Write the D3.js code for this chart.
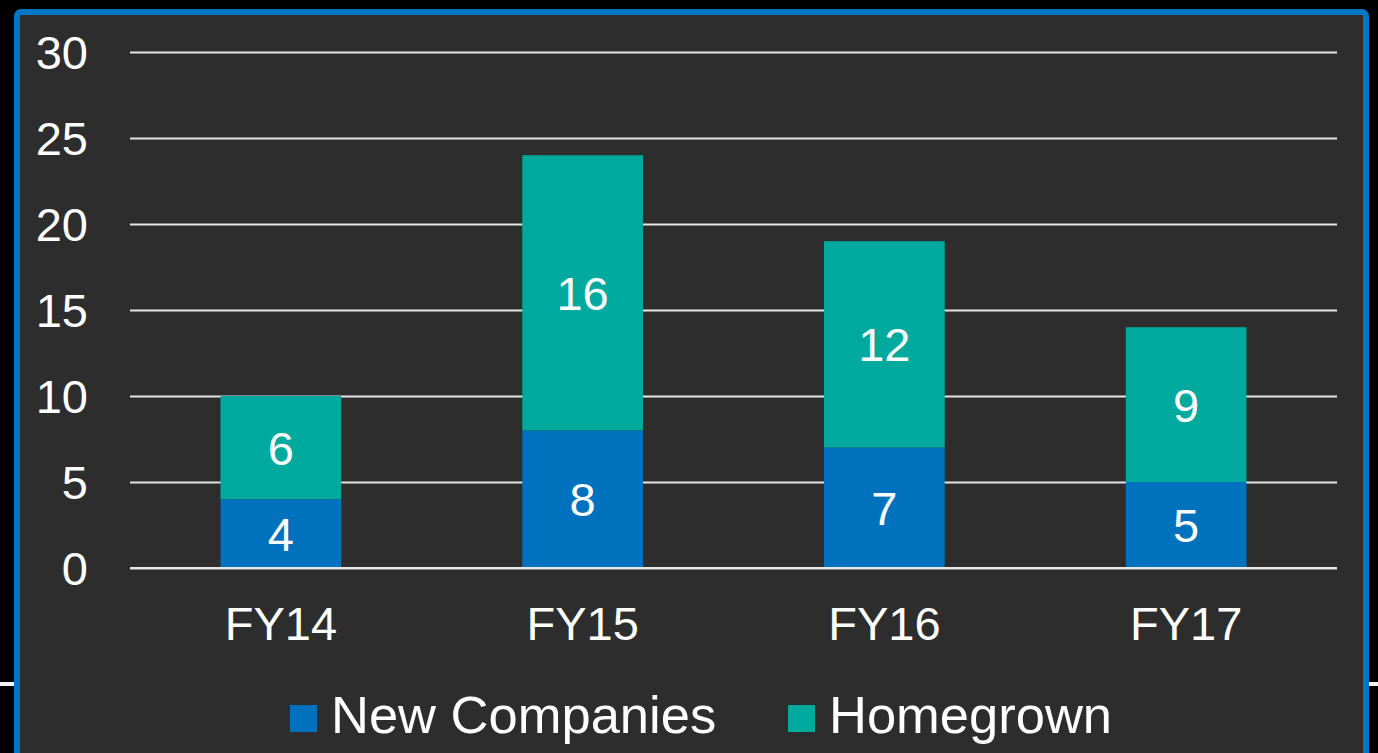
<!DOCTYPE html>
<html>
<head>
<meta charset="utf-8">
<script src="https://cdn.jsdelivr.net/npm/d3@7"></script>
<style>
  html, body { margin: 0; padding: 0; background: #000; overflow: hidden; }
  svg { display: block; font-family: "Liberation Sans", Arial, sans-serif; }
</style>
</head>
<body>
<div class="chart_area"></div>
<script>
// data
var years = ["FY14", "FY15", "FY16", "FY17"];
var newCompanies = [4, 8, 7, 5];
var homegrown = [6, 16, 12, 9];
var seriesNames = ["New Companies", "Homegrown"];
var yTicks = [0, 5, 10, 15, 20, 25, 30];

var colorNew = "#0071bc",
    colorHome = "#00a99d";

var W = 1378, H = 753;
var margin = {top: 52, right: 41, bottom: 185, left: 130},
    width = W - margin.left - margin.right,
    height = H - margin.top - margin.bottom;

var svg = d3.select(".chart_area").append("svg")
    .attr("width", W)
    .attr("height", H);

// white rule peeking out behind the panel
svg.append("rect")
    .attr("x", 0).attr("y", 682)
    .attr("width", W).attr("height", 4)
    .attr("fill", "#f2f2f2");

// the panel with blue frame
svg.append("rect")
    .attr("x", 17).attr("y", 12)
    .attr("width", 1349).attr("height", 780)
    .attr("rx", 4)
    .attr("fill", "#2d2d2d")
    .attr("stroke", "#0077c4")
    .attr("stroke-width", 6);

var g = svg.append("g")
    .attr("transform", "translate(" + margin.left + "," + margin.top + ")");

var x = d3.scaleBand()
    .domain(years)
    .range([0, width])
    .paddingInner(0.6)
    .paddingOuter(0.3);

var y = d3.scaleLinear()
    .domain([0, 30])
    .range([height, 0]);

// gridlines + y labels
var yAxis = g.append("g")
    .call(d3.axisLeft(y).tickValues(yTicks).tickSize(-width).tickPadding(42));
yAxis.select(".domain").remove();
yAxis.selectAll("line").attr("stroke", "#e6e6e6").attr("stroke-width", 2);
yAxis.selectAll("text")
    .attr("fill", "#fff")
    .attr("dy", "0.36em")
    .style("font-size", "47px");

// stacked data
var table = years.map(function(yr, i) {
  return {year: yr, New: newCompanies[i], Home: homegrown[i]};
});
var stack = d3.stack().keys(["New", "Home"])(table);
var colors = [colorNew, colorHome];

stack.forEach(function(layer, k) {
  g.selectAll("rect.s" + k)
    .data(layer)
    .enter().append("rect")
      .attr("class", "s" + k)
      .attr("x", d => x(d.data.year))
      .attr("y", d => y(d[1]))
      .attr("width", x.bandwidth())
      .attr("height", d => y(d[0]) - y(d[1]))
      .attr("fill", colors[k]);

  g.selectAll("text.v" + k)
    .data(layer)
    .enter().append("text")
      .attr("class", "v" + k)
      .attr("x", d => x(d.data.year) + x.bandwidth() / 2)
      .attr("y", d => (y(d[0]) + y(d[1])) / 2)
      .attr("dy", "0.36em")
      .attr("text-anchor", "middle")
      .attr("fill", "#fff")
      .style("font-size", "47px")
      .text(d => d[1] - d[0]);
});

// zero line redrawn over bars' bottom edge
g.append("line")
    .attr("x1", 0).attr("x2", width)
    .attr("y1", y(0)).attr("y2", y(0))
    .attr("stroke", "#e6e6e6").attr("stroke-width", 2);

// x labels
var xAxis = g.append("g")
    .attr("transform", "translate(0," + height + ")")
    .call(d3.axisBottom(x).tickSize(0));
xAxis.select(".domain").remove();
xAxis.selectAll("text")
    .attr("y", 72)
    .attr("dy", 0)
    .attr("fill", "#fff")
    .style("font-size", "47px");

// legend
var legend = svg.append("g").attr("transform", "translate(0,733)");
var legendX = [290, 788];
seriesNames.forEach(function(name, i) {
  legend.append("rect")
    .attr("x", legendX[i]).attr("y", -28)
    .attr("width", 27).attr("height", 27)
    .attr("fill", colors[i]);
  legend.append("text")
    .attr("x", legendX[i] + 41)
    .attr("y", 0)
    .attr("fill", "#fff")
    .style("font-size", "52.5px")
    .text(name);
});
</script>
</body>
</html>
